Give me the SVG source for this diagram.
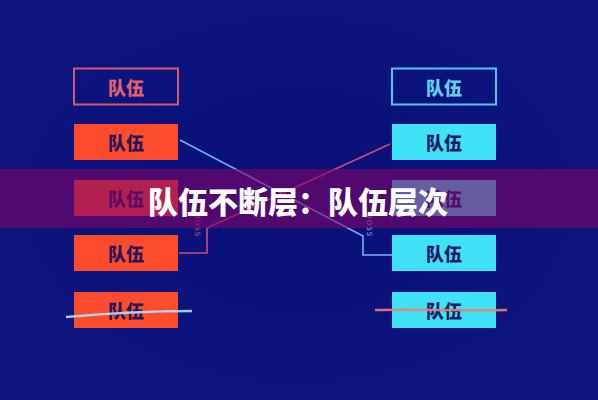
<svg xmlns="http://www.w3.org/2000/svg" width="598" height="400" viewBox="0 0 598 400">
<defs>
<radialGradient id="bg" cx="50%" cy="50%" r="70%">
<stop offset="0%" stop-color="#0a0f7a"/>
<stop offset="100%" stop-color="#0e167e"/>
</radialGradient>
<style>
.lbl{font-family:"Noto Sans CJK SC","Noto Sans CJK JP",sans-serif;font-weight:900;font-size:18px;text-anchor:middle;dominant-baseline:central}
.lf{fill:#fd4b2e}
.rf{fill:#3fe2f6}
.dk{fill:#2a1658}
.dkr{fill:#141c66}
.boss{font-family:"DejaVu Sans",sans-serif;font-size:7px;letter-spacing:1px}
</style>
</defs>
<rect width="598" height="400" fill="url(#bg)"/>
<g id="connectors" fill="none" stroke-width="1.6">
<polyline points="180,140 363,236 363,255 392,255" stroke="#6ab8f0"/>
<polyline points="390,144 207,228 207,253 179,253" stroke="#d04a7a"/>
</g>
<g id="left1"><rect x="74" y="68.5" width="104" height="36" fill="none" stroke="#d45a6a" stroke-width="2"/><text class="lbl" x="126" y="86.5" fill="#e0606e">队伍</text></g>
<g id="left2"><rect class="lf" x="74" y="124" width="104" height="36"/><text class="lbl dk" x="126" y="142">队伍</text></g>
<g id="left3"><rect class="lf" x="74" y="180" width="104" height="36"/><text class="lbl dk" x="126" y="198">队伍</text></g>
<g id="left4"><rect class="lf" x="74" y="235" width="104" height="36"/><text class="lbl dk" x="126" y="253">队伍</text></g>
<g id="left5"><rect class="lf" x="74" y="292" width="104" height="36"/><text class="lbl dk" x="126" y="310">队伍</text></g>
<g id="right1"><rect x="392" y="68.5" width="104" height="36" fill="none" stroke="#4fc8f0" stroke-width="2"/><text class="lbl" x="444" y="86.5" fill="#5fd2f6">队伍</text></g>
<g id="right2"><rect class="rf" x="392" y="124" width="104" height="36"/><text class="lbl dkr" x="444" y="142">队伍</text></g>
<g id="right3"><rect class="rf" x="392" y="180" width="104" height="36"/><text class="lbl dkr" x="444" y="198">队伍</text></g>
<g id="right4"><rect class="rf" x="392" y="235" width="104" height="36"/><text class="lbl dkr" x="444" y="253">队伍</text></g>
<g id="right5"><rect class="rf" x="392" y="292" width="104" height="36"/><text class="lbl dkr" x="444" y="310">队伍</text></g>
<g id="strikes" fill="none">
<path d="M66,317 C100,314 150,311 192,311" stroke="#a8e4ff" stroke-width="2.4" opacity="0.9"/>
<path d="M375,310 C420,309 470,311 507,310" stroke="#f08070" stroke-width="2.6" opacity="0.9"/>
</g>
<text class="boss" transform="translate(195,214) rotate(90)" fill="#c05080">BOSS</text>
<text class="boss" transform="translate(367,214) rotate(90)" fill="#8ab8f0">BOSS</text>
<rect x="0" y="169" width="598" height="59" fill="rgb(128,4,103)" opacity="0.6"/>
<text x="298" y="200" font-family="Noto Sans CJK SC, Noto Sans CJK JP, sans-serif" font-weight="900" font-size="30" fill="#ffffff" text-anchor="middle" dominant-baseline="central">队伍不断层：队伍层次</text>
</svg>
